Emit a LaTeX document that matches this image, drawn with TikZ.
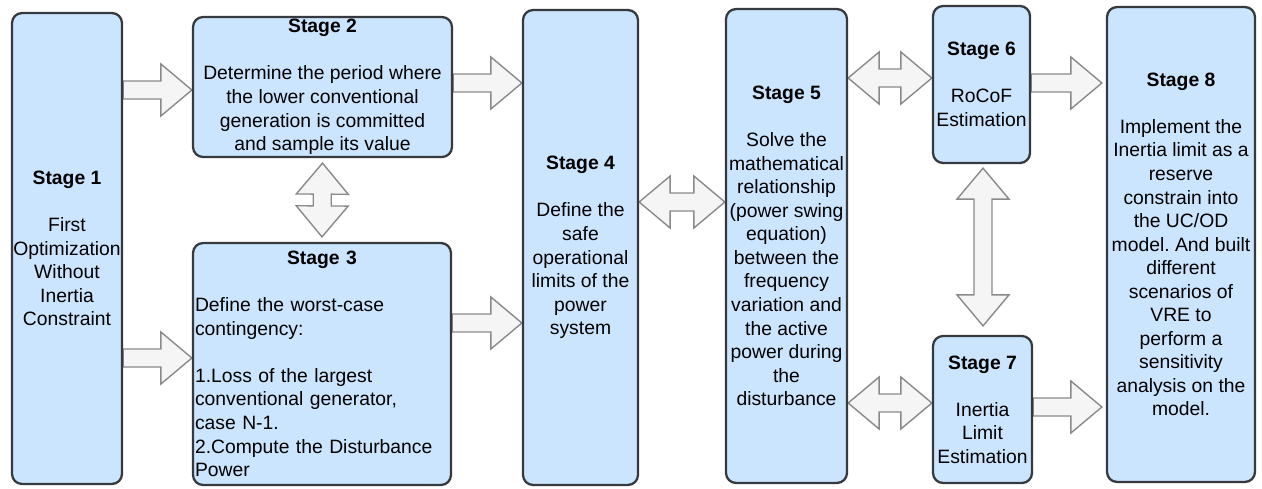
\documentclass[tikz,border=0pt]{standalone}
\usepackage{fontspec}
\setmainfont{Liberation Sans}
\usetikzlibrary{calc,backgrounds}
\definecolor{stagefill}{HTML}{CCE5FF}
\definecolor{stageline}{HTML}{36393D}
\definecolor{arrowfill}{HTML}{F5F5F5}
\definecolor{arrowline}{HTML}{8A8A8A}
\tikzset{
	stagebox/.style={draw=stageline, fill=stagefill, line width=1.3pt, rounded corners=0.2cm,
		inner sep=0.02cm, align=center, font=\fontsize{11}{13.4}\selectfont\frenchspacing},
	blockarrow/.style={draw=arrowline, fill=arrowfill, line width=0.8pt, line join=miter}
}
\def\onearrow(#1)(#2){\path (#1) coordinate (tl) (#2) coordinate (tp) ($(tp)!0.62cm!(tl)$) coordinate (hb);
	\draw[blockarrow] ($(tl)!0.18cm!90:(tp)$) -- ($(hb)!0.18cm!90:(tp)$) -- ($(hb)!0.52cm!90:(tp)$) -- (tp)
		-- ($(hb)!0.52cm!-90:(tp)$) -- ($(hb)!0.18cm!-90:(tp)$) -- ($(tl)!0.18cm!-90:(tp)$) -- cycle;}
\def\twoarrow(#1)(#2){\path (#1) coordinate (ta) (#2) coordinate (tb) ($(ta)!0.62cm!(tb)$) coordinate (ha) ($(tb)!0.62cm!(ta)$) coordinate (hb);
	\draw[blockarrow] (ta) -- ($(ha)!0.52cm!90:(tb)$) -- ($(ha)!0.18cm!90:(tb)$) -- ($(hb)!0.18cm!90:(tb)$) -- ($(hb)!0.52cm!90:(tb)$) -- (tb)
		-- ($(hb)!0.52cm!-90:(tb)$) -- ($(hb)!0.18cm!-90:(tb)$) -- ($(ha)!0.18cm!-90:(tb)$) -- ($(ha)!0.52cm!-90:(tb)$) -- cycle;}

\begin{document}
\begin{tikzpicture}[x=0.02cm, y=-0.02cm]
	%%%%% START %%%%%
	\useasboundingbox (0, 0) rectangle (1262, 488);
	
	\node[stagebox, minimum width=2.2cm, minimum height=9.42cm] (s1) at (67, 248.5)
		{\textbf{Stage 1}\\[13.4pt]First\\Optimization\\Without\\Inertia\\Constraint};
	\node[stagebox, minimum width=5.18cm, minimum height=2.8cm] (s2) at (322.5, 87)
		{\textbf{Stage 2}\\[13.4pt]Determine the period where\\the lower conventional\\generation is committed\\and sample its value};
	\node[stagebox, minimum width=5.16cm, minimum height=4.84cm, text width=5.08cm, align=left] (s3) at (322, 364)
		{\hfill\textbf{Stage 3}\hfill\null\\[13.4pt]Define the worst-case\\contingency:\\[13.4pt]1.Loss of the largest\\conventional generator,\\case N-1.\\2.Compute the Disturbance\\Power};
	\node[stagebox, minimum width=2.3cm, minimum height=9.5cm] (s4) at (580.5, 247.5)
		{\textbf{Stage 4}\\[13.4pt]Define the\\safe\\operational\\limits of the\\power\\system};
	\node[stagebox, minimum width=2.42cm, minimum height=9.48cm] (s5) at (786.5, 246)
		{\textbf{Stage 5}\\[13.4pt]Solve the\\mathematical\\relationship\\(power swing\\equation)\\between the\\frequency\\variation and\\the active\\power during\\the\\disturbance};
	\node[stagebox, minimum width=1.94cm, minimum height=3.14cm] (s6) at (981.5, 84.5)
		{\textbf{Stage 6}\\[13.4pt]RoCoF\\Estimation};
	\node[stagebox, minimum width=1.98cm, minimum height=2.94cm] (s7) at (982.5, 409.5)
		{\textbf{Stage 7}\\[13.4pt]Inertia\\Limit\\Estimation};
	\node[stagebox, minimum width=2.96cm, minimum height=9.5cm] (s8) at (1181, 244.5)
		{\textbf{Stage 8}\\[13.4pt]Implement the\\Inertia limit as a\\reserve\\constrain into\\the UC/OD\\model. And built\\different\\scenarios of\\VRE to\\perform a\\sensitivity\\analysis on the\\model.};
	
	\begin{pgfonlayer}{background}
		\onearrow(s1.east |- 0,90)(s2.west |- 0,90)
		\onearrow(s1.east |- 0,358)(s3.west |- 0,358)
		\twoarrow({$(s2.south)+(0,5)$})({$(s3.north)+(0,-5)$})
		\onearrow(s2.east |- 0,83)(s4.west |- 0,83)
		\onearrow(s3.east |- 0,323)(s4.west |- 0,323)
		\twoarrow(s4.east |- 0,202)(s5.west |- 0,202)
		\twoarrow(s5.east |- 0,78)(s6.west |- 0,78)
		\twoarrow(s5.east |- 0,403)(s7.west |- 0,403)
		\twoarrow({$(s6.south)+(1.5,4)$})({$(s7.north)+(0.5,-9)$})
		\onearrow(s6.east |- 0,83)({$(s8.west |- 0,83)+(-4,0)$})
		\onearrow(s7.east |- 0,407)({$(s8.west |- 0,407)+(-4,0)$})
	\end{pgfonlayer}
	
	%%%%% END %%%%%
\end{tikzpicture}
\end{document}
